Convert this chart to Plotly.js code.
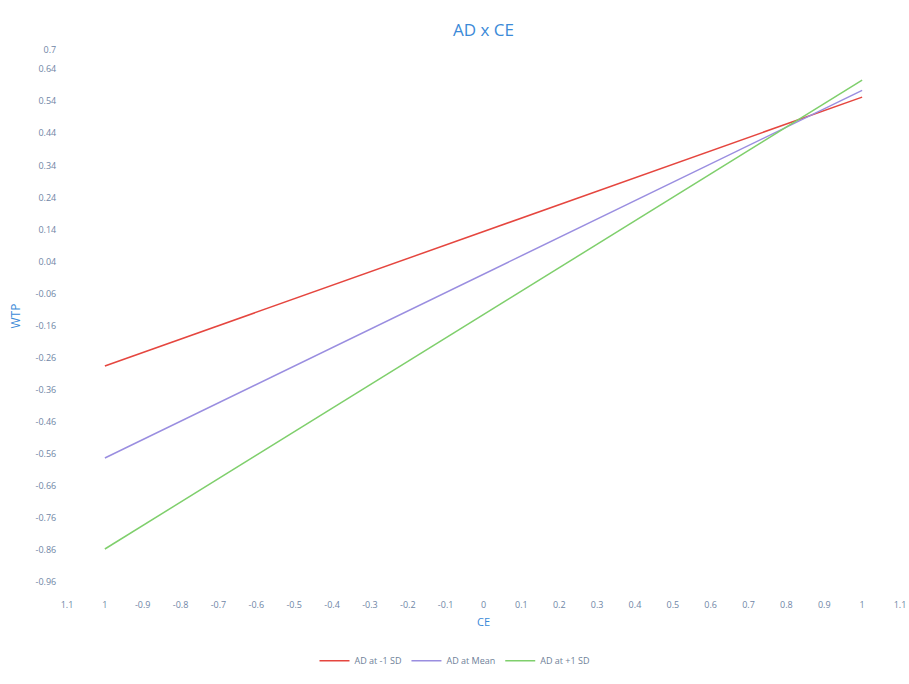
<!DOCTYPE html>
<html>
<head>
<meta charset="utf-8">
<script src="https://cdn.plot.ly/plotly-3.0.1.min.js"></script>
<style>html,body{margin:0;padding:0;background:#fff;}#chart{width:909px;height:684px;}</style>
</head>
<body>
<div id="chart"></div>
<script>
const seriesNames = ["AD at -1 SD", "AD at Mean", "AD at +1 SD"];
const ceValues = [-1, 1];
const wtpLow = [-0.286, 0.553];
const wtpMean = [-0.573, 0.574];
const wtpHigh = [-0.857, 0.606];
const seriesColors = ["#e5463f", "#9a8ee0", "#7fcf6c"];
const xTickVals = [-1.1,-1,-0.9,-0.8,-0.7,-0.6,-0.5,-0.4,-0.3,-0.2,-0.1,0,0.1,0.2,0.3,0.4,0.5,0.6,0.7,0.8,0.9,1,1.1];
const xTickText = ["1.1","1","-0.9","-0.8","-0.7","-0.6","-0.5","-0.4","-0.3","-0.2","-0.1","0","0.1","0.2","0.3","0.4","0.5","0.6","0.7","0.8","0.9","1","1.1"];
const yTickVals = [-0.96,-0.86,-0.76,-0.66,-0.56,-0.46,-0.36,-0.26,-0.16,-0.06,0.04,0.14,0.24,0.34,0.44,0.54,0.64,0.7];
const yTickText = ["-0.96","-0.86","-0.76","-0.66","-0.56","-0.46","-0.36","-0.26","-0.16","-0.06","0.04","0.14","0.24","0.34","0.44","0.54","0.64","0.7"];

const ys = [wtpLow, wtpMean, wtpHigh];
const traces = seriesNames.map((n, i) => ({
  x: ceValues, y: ys[i], name: n, type: 'scatter', mode: 'lines',
  line: {color: seriesColors[i], width: 1.5}
}));

const tickFont = {family: 'Open Sans, sans-serif', size: 9, color: '#6f86a6'};
const layout = {
  width: 909, height: 684,
  paper_bgcolor: '#fff', plot_bgcolor: '#fff',
  margin: {l: 67, r: 9, t: 50, b: 102, autoexpand: false},
  title: {text: 'AD x CE', xref: 'paper', x: 0.5, xanchor: 'center', yref: 'container', y: 0.956, yanchor: 'middle',
    font: {family: 'Open Sans, sans-serif', size: 17, color: '#3b8ad8'}},
  xaxis: {
    range: [-1.1, 1.1], tickmode: 'array', tickvals: xTickVals, ticktext: xTickText,
    showgrid: false, zeroline: false, showline: false,
    ticks: 'outside', ticklen: 14, tickcolor: 'rgba(0,0,0,0)',
    tickfont: tickFont, automargin: false,
    title: {text: 'CE', standoff: 8, font: {family: 'Open Sans, sans-serif', size: 11, color: '#3b8ad8'}}
  },
  yaxis: {
    range: [-0.96, 0.7], tickmode: 'array', tickvals: yTickVals, ticktext: yTickText,
    showgrid: false, zeroline: false, showline: false,
    ticks: 'outside', ticklen: 8, tickcolor: 'rgba(0,0,0,0)',
    tickfont: tickFont, automargin: false,
    title: {text: 'WTP', standoff: 12, font: {family: 'Open Sans, sans-serif', size: 12, color: '#3b8ad8'}}
  },
  showlegend: true,
  legend: {orientation: 'h', x: 0.5, xanchor: 'center', xref: 'container', yref: 'container', y: 0.034, yanchor: 'middle',
    font: {family: 'Open Sans, sans-serif', size: 9, color: '#6f7f99'}}
};
Plotly.newPlot('chart', traces, layout, {displayModeBar: false, staticPlot: true});
</script>
</body>
</html>
